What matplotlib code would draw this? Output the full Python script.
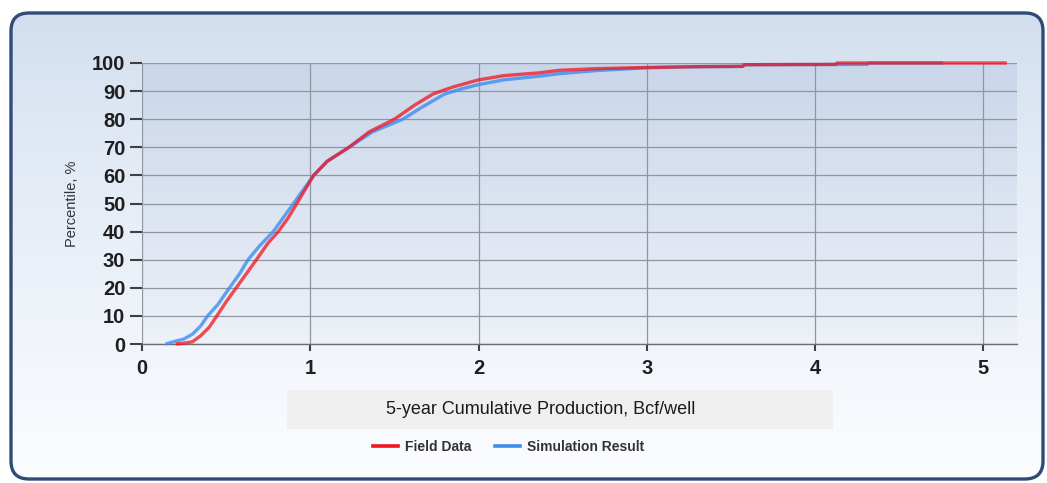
import numpy as np
import matplotlib
matplotlib.use("Agg")
from matplotlib import pyplot as plt
from matplotlib.patches import FancyBboxPatch, Rectangle
from matplotlib.lines import Line2D

# cumulative distribution (x in Bcf/well, y in %)
field_x = [0.20, 0.25, 0.30, 0.35, 0.40, 0.445, 0.50, 0.56, 0.62, 0.68, 0.75, 0.81,
           0.87, 0.92, 0.97, 1.02, 1.10, 1.23, 1.35, 1.50, 1.62, 1.73, 1.85, 2.00,
           2.15, 2.36, 2.48, 2.70, 3.00, 3.30, 3.57, 3.58, 4.12, 4.13, 5.14]
field_y = [0, 0.3, 0.8, 3, 6, 10, 15, 20, 25, 30, 36, 40,
           45, 50, 55, 60, 65, 70, 75.5, 80, 85, 89, 91.5, 94,
           95.5, 96.5, 97.4, 98, 98.4, 98.7, 98.8, 99.4, 99.5, 100, 100]

sim_x = [0.14, 0.20, 0.25, 0.30, 0.35, 0.39, 0.45, 0.52, 0.58, 0.63, 0.70, 0.78,
         0.84, 0.90, 0.96, 1.02, 1.10, 1.23, 1.37, 1.55, 1.67, 1.80, 1.90, 2.00,
         2.15, 2.36, 2.48, 2.70, 3.00, 3.30, 3.57, 3.58, 4.31, 4.32, 4.76]
sim_y = [0, 1, 1.8, 3.5, 6.5, 10, 14, 20, 25, 30, 35, 40,
         45, 50, 55, 60, 65, 70, 75.5, 80, 84.5, 89, 90.8, 92.3,
         94, 95.3, 96.2, 97.3, 98.3, 98.7, 98.8, 99.4, 99.5, 100, 100]

x_ticks = [0, 1, 2, 3, 4, 5]
y_ticks = list(range(0, 101, 10))

W, H = 1047, 483
fig = plt.figure(figsize=(W / 100, H / 100), dpi=100)

# outer rounded panel, drawn in pixel coordinates
bg = fig.add_axes([0, 0, 1, 1], zorder=-1)
bg.set_xlim(0, W)
bg.set_ylim(H, 0)
bg.axis("off")
panel = FancyBboxPatch((11, 13), 1032, 466, boxstyle="round,pad=0,rounding_size=18",
                       facecolor="none", edgecolor="#2f4b76", linewidth=2.4, zorder=3)
bg.add_patch(panel)
grad = np.linspace(0, 1, 256).reshape(-1, 1)
top_c = np.array([0.82, 0.87, 0.935])
bot_c = np.array([0.985, 0.99, 1.0])
img = top_c + (bot_c - top_c) * grad[..., None] ** 0.8
im = bg.imshow(img, extent=(11, 1043, 479, 13), aspect="auto", zorder=1)
im.set_clip_path(panel)
bg.add_patch(Rectangle((287, 390), 546, 39, facecolor="#efefef", edgecolor="none", zorder=2))
bg.text(541, 410, "5-year Cumulative Production, Bcf/well", ha="center", va="center",
        fontsize=13, family="Liberation Sans", color="#1a1a1a", zorder=4)

# main plot
ax = fig.add_axes([142 / W, 1 - 344 / H, (1017 - 142) / W, (344 - 63) / H])
ax.set_xlim(0, 5.2)
ax.set_ylim(0, 100)
pgrad = np.linspace(0, 1, 256).reshape(-1, 1)
ptop = np.array([0.79, 0.84, 0.915])
pbot = np.array([0.93, 0.945, 0.97])
pimg = ptop + (pbot - ptop) * pgrad[..., None]
ax.imshow(pimg, extent=(0, 5.2, 0, 100), aspect="auto", zorder=0)

ax.set_xticks(x_ticks)
ax.set_yticks(y_ticks)
ax.grid(True, color="#8f96a0", linewidth=0.9, zorder=1)
ax.set_axisbelow(True)
for s in ["top", "right", "left"]:
    ax.spines[s].set_visible(False)
ax.spines["bottom"].set_color("#6b6f75")
ax.spines["bottom"].set_linewidth(1.0)
ax.tick_params(axis="y", length=9, width=1.5, color="#404040", pad=3)
ax.tick_params(axis="x", length=5, width=1.5, color="#404040", pad=6)
for lab in ax.get_xticklabels() + ax.get_yticklabels():
    lab.set_fontfamily("Liberation Sans")
    lab.set_fontweight("bold")
    lab.set_fontsize(14.5)
    lab.set_color("#1f1f1f")

ax.plot(sim_x, sim_y, color="#3d8ef0", linewidth=2.4, alpha=0.8, zorder=3, clip_on=False,
        solid_capstyle="butt")
ax.plot(field_x, field_y, color="#f0141e", linewidth=2.4, alpha=0.75, zorder=4, clip_on=False,
        solid_capstyle="butt")

fig.text(72 / W, 1 - 204 / H, "Percentile, %", rotation=90, ha="center", va="center",
         fontsize=10.5, family="Liberation Sans", color="#333333")

handles = [Line2D([], [], color="#f0141e", linewidth=2.6),
           Line2D([], [], color="#3d8ef0", linewidth=2.6)]
leg = fig.legend(handles, ["Field Data", "Simulation Result"], loc="center",
                 bbox_to_anchor=(509 / W, 1 - 447 / H), ncol=2, frameon=False,
                 handlelength=1.8, handletextpad=0.5, columnspacing=1.7,
                 prop={"family": "Liberation Sans", "weight": "bold", "size": 10})
for t in leg.get_texts():
    t.set_color("#333333")

fig.savefig("out.png", dpi=100)
